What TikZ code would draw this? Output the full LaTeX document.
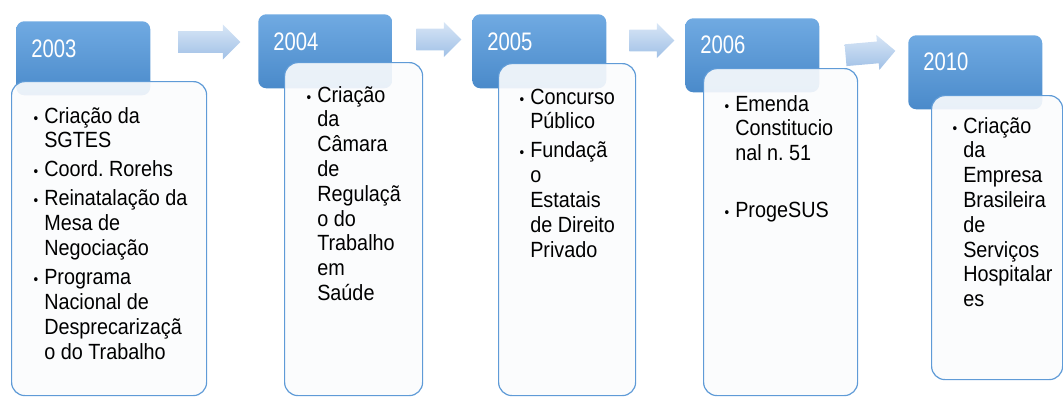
\documentclass[tikz,border=0pt]{standalone}
\usepackage{fontspec}
\setmainfont[FakeStretch=0.9]{Liberation Sans}
\newfontfamily\yearfont[FakeStretch=0.8]{Liberation Sans}
\usetikzlibrary{shapes.arrows, calc, positioning}

\definecolor{hdtop}{RGB}{112,170,226}
\definecolor{hdmid}{RGB}{91,155,213}
\definecolor{hdbot}{RGB}{74,138,202}
\definecolor{bdedge}{RGB}{95,155,215}
\definecolor{bdfill}{RGB}{251,252,253}
\definecolor{artop}{RGB}{216,230,246}
\definecolor{arbot}{RGB}{160,192,230}

\newdimen\pxl \pxl=0.75pt
\newcommand{\bul}{\leavevmode\llap{{\fontsize{11pt}{11pt}\selectfont •}\hspace{4.5pt}}}
\newcommand{\gap}{\\[3.2pt]}

\begin{document}
\begin{tikzpicture}[x=0.75pt, y=-0.75pt,
    head/.style={rectangle, rounded corners=6pt, inner sep=0pt, anchor=north west,
      top color=hdtop, middle color=hdmid, bottom color=hdbot,
      minimum width=134\pxl, minimum height=74\pxl},
    body/.style={rectangle, rounded corners=10pt, inner sep=0pt, anchor=north west,
      draw=bdedge, line width=0.9pt, fill=bdfill, fill opacity=0.9},
    arr/.style={single arrow, single arrow head extend=5pt, inner xsep=0pt, inner ysep=8pt,
      top color=artop, bottom color=arbot},
    yr/.style={anchor=base west, inner sep=0pt, text=white,
      font=\yearfont\fontsize{19pt}{19pt}\selectfont},
    txt/.style={anchor=base west, inner sep=0pt, text=black,
      font=\fontsize{16.5pt}{18.6pt}\selectfont}]
  \useasboundingbox (0,0) rectangle (1063,396);

  \node[arr, minimum height=62\pxl] (a1) at (204,42) {};
  \node[arr, minimum height=45\pxl] (a2) at (433.5,39.5) {};
  \node[arr, minimum height=45\pxl] (a3) at (646.5,40.5) {};
  \node[arr, minimum height=50\pxl, rotate=5] (a4) at (865,53.5) {};

  \node[head] (h1) at (16,21) {};
  \node[head] (h2) at (258,14) {};
  \node[head] (h3) at (472,14) {};
  \node[head] (h4) at (685,18) {};
  \node[head] (h5) at (908,35) {};

  \node[yr] (y1) at ($(h1.north west)+(15,36)$) {2003};
  \node[yr] (y2) at ($(h2.north west)+(15,36)$) {2004};
  \node[yr] (y3) at ($(h3.north west)+(15,36)$) {2005};
  \node[yr] (y4) at ($(h4.north west)+(15,35)$) {2006};
  \node[yr] (y5) at ($(h5.north west)+(15,35)$) {2010};

  \node[body, minimum width=195\pxl, minimum height=314\pxl] (b1) at (11,81) {};
  \node[body, minimum width=138\pxl, minimum height=333\pxl] (b2) at (284,62) {};
  \node[body, minimum width=137\pxl, minimum height=332\pxl] (b3) at (498,63) {};
  \node[body, minimum width=154\pxl, minimum height=327\pxl] (b4) at (703,68) {};
  \node[body, minimum width=131\pxl, minimum height=284\pxl] (b5) at (931,95) {};

  \node[txt] (t1) at ($(b1.north west)+(33,42)$) {\parbox[t]{150pt}{\raggedright
    \bul Criação da\\SGTES\gap
    \bul Coord.\ Rorehs\gap
    \bul Reinatalação da\\Mesa de\\Negociação\gap
    \bul Programa\\Nacional de\\Desprecarizaçã\\o do Trabalho}};
  \node[txt] (t2) at ($(b2.north west)+(33,40)$) {\parbox[t]{90pt}{\raggedright
    \bul Criação\\da\\Câmara\\de\\Regulaçã\\o do\\Trabalho\\em\\Saúde}};
  \node[txt] (t3) at ($(b3.north west)+(32,41)$) {\parbox[t]{90pt}{\raggedright
    \bul Concurso\\Público\gap
    \bul Fundaçã\\o\\Estatais\\de Direito\\Privado}};
  \node[txt] (t4) at ($(b4.north west)+(32,43)$) {\parbox[t]{100pt}{\raggedright
    \bul Emenda\\Constitucio\\nal n.\ 51\\[24.2pt]
    \bul ProgeSUS}};
  \node[txt] (t5) at ($(b5.north west)+(32,38)$) {\parbox[t]{90pt}{\raggedright
    \bul Criação\\da\\Empresa\\Brasileira\\de\\Serviços\\Hospitalar\\es}};
\end{tikzpicture}
\end{document}
